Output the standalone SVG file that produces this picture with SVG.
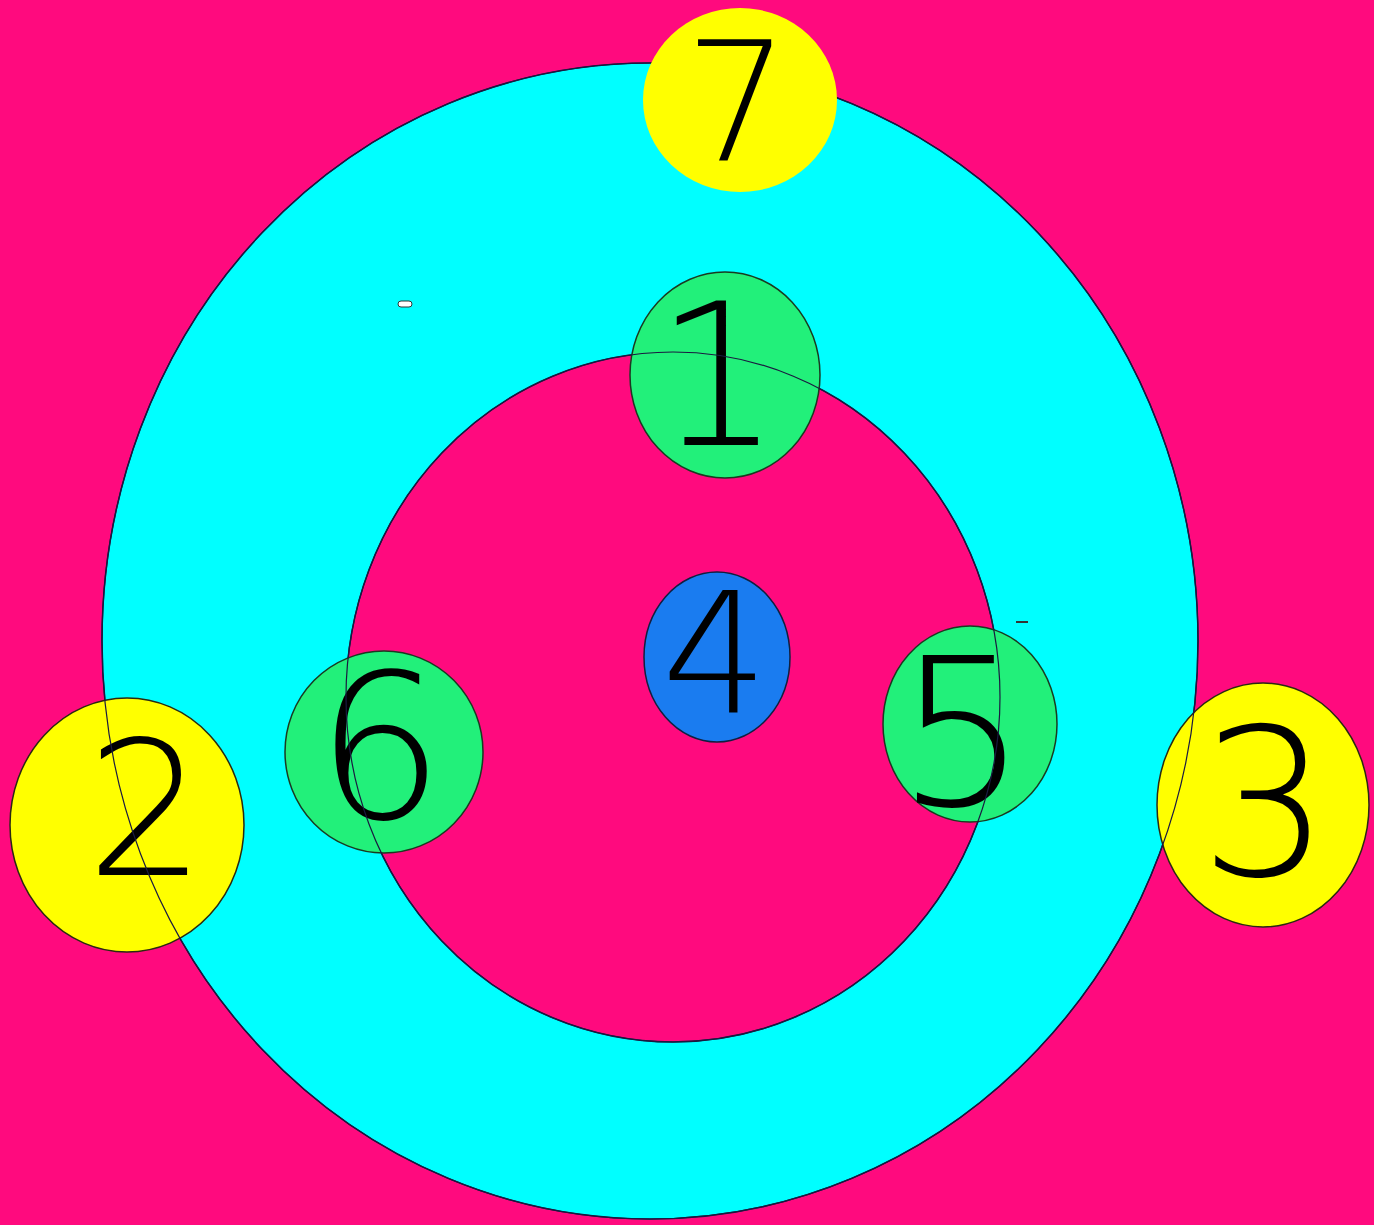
<svg xmlns="http://www.w3.org/2000/svg" width="1374" height="1225" viewBox="0 0 1374 1225">
<style>
.bg{fill:#FF0A7E}
.ring{fill:#00FFFF;stroke:#1a1a40;stroke-width:1.5}
.hole{fill:#FF0A7E;stroke:#1a1a40;stroke-width:1.5}
.edge{fill:none;stroke:#1a1a40;stroke-width:1.2}
.yellow{fill:#FFFF00;stroke:#2a2a10;stroke-width:1.5}
.green{fill:#22F07A;stroke:#1a3a20;stroke-width:1.5}
.blue{fill:#1A7CF0;stroke:#102040;stroke-width:1.5}
.num{font-family:"DejaVu Sans","Liberation Sans",sans-serif;font-weight:200;fill:#000;text-anchor:middle}
</style>
<rect class="bg" x="0" y="0" width="1374" height="1225"/>
<ellipse class="ring" cx="650" cy="641" rx="548" ry="578"/>
<ellipse class="hole" cx="673" cy="697" rx="327" ry="345"/>
<rect x="398" y="301" width="14" height="6" rx="3" fill="#fff" stroke="#333" stroke-width="1"/>
<rect x="1016" y="621" width="12" height="2" fill="#333"/>
<g id="connectors"></g>
<g id="node-4"><ellipse class="blue" cx="717" cy="657" rx="73" ry="85"/><text class="num" x="715" y="712" font-size="168">4</text></g>
<g id="node-1"><ellipse class="green" cx="725" cy="375" rx="95" ry="103"/><text class="num" x="718" y="445" font-size="198">1</text></g>
<g id="node-6"><ellipse class="green" cx="384" cy="752" rx="99" ry="101"/><text class="num" x="380" y="818" font-size="202">6</text></g>
<g id="node-5"><ellipse class="green" cx="970" cy="724" rx="87" ry="98"/><text class="num" x="962" y="805" font-size="205">5</text></g>
<g id="node-2"><ellipse class="yellow" cx="127" cy="825" rx="117" ry="127"/><text class="num" x="146" y="875" font-size="188">2</text></g>
<g id="node-3"><ellipse class="yellow" cx="1263" cy="805" rx="106" ry="122"/><text class="num" x="1265" y="875" font-size="205">3</text></g>
<g id="edges-overlay">
<ellipse class="edge" cx="650" cy="641" rx="548" ry="578"/>
<ellipse class="edge" cx="673" cy="697" rx="327" ry="345"/>
</g>
<g id="node-7"><ellipse cx="740" cy="100" rx="97" ry="92" fill="#FFFF00"/><text class="num" x="737" y="160" font-size="165">7</text></g>
</svg>
